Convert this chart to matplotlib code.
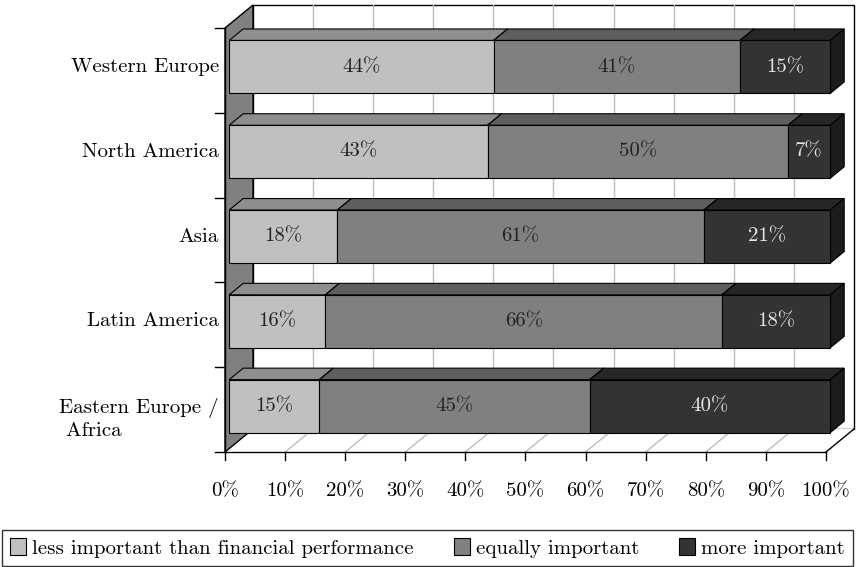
import matplotlib
matplotlib.use("Agg")
import matplotlib.pyplot as plt
from matplotlib.patches import Polygon, Patch

plt.rcParams['font.family'] = ['cmr10', 'DejaVu Serif']
plt.rcParams['axes.formatter.use_mathtext'] = True

categories = ["Western Europe", "North America", "Asia", "Latin America", "Eastern Europe /\n Africa"]
series_names = ["less important than financial performance", "equally important", "more important"]
less_important = [44, 43, 18, 16, 15]
equally_important = [41, 50, 61, 66, 45]
more_important = [15, 7, 21, 18, 40]
xticks = [0, 10, 20, 30, 40, 50, 60, 70, 80, 90, 100]
xtick_labels = [f"{v}%" for v in xticks]

front_colors = ["#c0c0c0", "#808080", "#333333"]
top_colors = ["#8e8e8e", "#5e5e5e", "#262626"]
side_colors = ["#8e8e8e", "#5e5e5e", "#1c1c1c"]
text_colors = ["#222222", "#222222", "#e6e6e6"]
FS = 15

W, H = 858, 567
fig = plt.figure(figsize=(W / 100, H / 100), dpi=100)
ax = fig.add_axes([0, 0, 1, 1])
ax.axis("off")

# pixel mapping: x=0% at px 225, 100% at px 826 ; category slot 0 top at px 28, 84.8 px per slot
px_per_x = 6.01
px_per_y = 84.8
x0px, y0px = 225, 28
ax.set_xlim(-x0px / px_per_x, (W - x0px) / px_per_x)
ax.set_ylim((H - y0px) / px_per_y, -y0px / px_per_y)

n = len(categories)
DX = 28 / px_per_x
DY = 23 / px_per_y


def P(x, y, d):
    return (x + d * DX, y - d * DY)


# back wall
ax.add_patch(Polygon([P(0, 0, 1), P(100, 0, 1), P(100, n, 1), P(0, n, 1)],
                     closed=True, facecolor="white", edgecolor="black", lw=1.0, zorder=1))
for v in xticks[1:-1]:
    ax.plot(*zip(P(v, 0, 1), P(v, n, 1)), color="#bdbdbd", lw=1.0, zorder=1.5)
# floor
ax.add_patch(Polygon([P(0, n, 0), P(100, n, 0), P(100, n, 1), P(0, n, 1)],
                     closed=True, facecolor="white", edgecolor="none", zorder=1.2))
for v in xticks[1:-1]:
    ax.plot(*zip(P(v, n, 0), P(v, n, 1)), color="#bdbdbd", lw=1.0, zorder=1.5)
ax.plot(*zip(P(100, n, 0), P(100, n, 1)), color="black", lw=1.0, zorder=1.6)
# left wall
ax.add_patch(Polygon([P(0, 0, 0), P(0, 0, 1), P(0, n, 1), P(0, n, 0)],
                     closed=True, facecolor="#808080", edgecolor="black", lw=1.0, zorder=2))

# bars
d1, d2 = 0.15, 0.65
hh = 0.3125
for k in range(n):
    vals = [less_important[k], equally_important[k], more_important[k]]
    yc = k + 0.5
    cum = 0
    for s, v in enumerate(vals):
        xl, xr = cum, cum + v
        yt, yb = yc - hh, yc + hh
        z = 3 + s * 0.1
        ax.add_patch(Polygon([P(xl, yt, d1), P(xr, yt, d1), P(xr, yt, d2), P(xl, yt, d2)],
                             closed=True, facecolor=top_colors[s], edgecolor="black", lw=0.8, zorder=z))
        ax.add_patch(Polygon([P(xr, yt, d1), P(xr, yt, d2), P(xr, yb, d2), P(xr, yb, d1)],
                             closed=True, facecolor=side_colors[s], edgecolor="black", lw=0.8, zorder=z))
        ax.add_patch(Polygon([P(xl, yt, d1), P(xr, yt, d1), P(xr, yb, d1), P(xl, yb, d1)],
                             closed=True, facecolor=front_colors[s], edgecolor="black", lw=0.8, zorder=z + 0.05))
        tx, ty = P(cum + v / 2, yc, d1)
        ax.text(tx, ty, f"{v}%", ha="center", va="center", fontsize=FS,
                color=text_colors[s], zorder=5)
        cum = xr

# axes lines
ax.plot([0, 100], [n, n], color="black", lw=1.0, zorder=6)
ax.plot([0, 0], [0, n], color="black", lw=1.0, zorder=6)
for v, lab in zip(xticks, xtick_labels):
    ax.plot([v, v], [n, n + 8 / px_per_y], color="black", lw=1.0, zorder=6)
    ax.text(v, n + 39 / px_per_y, lab, ha="center", va="center", fontsize=FS, color="black")
for k in range(n + 1):
    ax.plot([0, -10 / px_per_x], [k, k], color="black", lw=1.0, zorder=6)
for k, lab in enumerate(categories):
    yy = k + 0.46 if "\n" not in lab else k + 0.61
    ax.text(-1.0, yy, lab, ha="right", va="center", fontsize=FS, color="black",
            multialignment="left", linespacing=1.25)

handles = [Patch(facecolor=c, edgecolor="black", lw=0.8) for c in front_colors]
leg = fig.legend(handles, series_names, loc="lower left", ncol=3,
                 bbox_to_anchor=(2 / W, 1 / H, 851 / W, 39 / H), mode="expand",
                 fontsize=FS, frameon=True, fancybox=False, edgecolor="black",
                 handlelength=0.75, handleheight=0.85, handletextpad=0.3,
                 borderaxespad=0, borderpad=0.4, columnspacing=1.45)
leg.get_frame().set_linewidth(1.0)

fig.savefig("out.png", dpi=100)
